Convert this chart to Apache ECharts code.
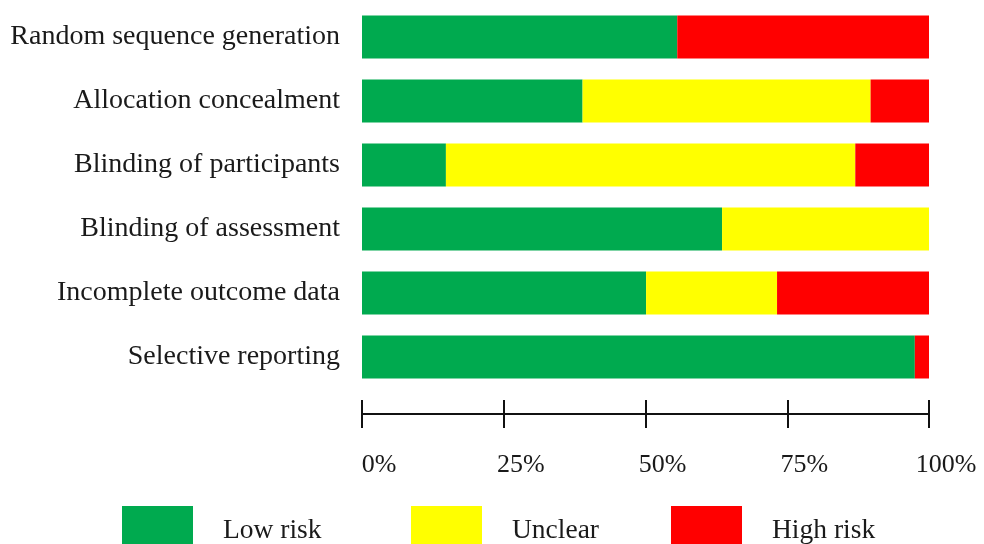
<!DOCTYPE html>
<html>
<head>
<meta charset="utf-8">
<script src="https://cdn.jsdelivr.net/npm/echarts@6/dist/echarts.min.js"></script>
<style>
html,body{margin:0;padding:0;background:#fff;}
#chart{width:984px;height:544px;}
</style>
</head>
<body>
<div id="chart"></div>
<script>
const categories = [
  'Random sequence generation',
  'Allocation concealment',
  'Blinding of participants',
  'Blinding of assessment',
  'Incomplete outcome data',
  'Selective reporting'
];
const lowRisk  = [55.6, 38.9, 14.8, 63.5, 50.1, 97.5];
const unclear  = [0,    50.8, 72.2, 36.5, 23.1, 0];
const highRisk = [44.4, 10.3, 13.0, 0,    26.8, 2.5];
const seriesNames = ['Low risk', 'Unclear', 'High risk'];
const tickValues = [0, 25, 50, 75, 100];

const FONT = '"Liberation Serif", "Times New Roman", serif';
const colors = ['#00AA4F', '#FFFF00', '#FF0000'];

const chart = echarts.init(document.getElementById('chart'), null, {renderer: 'canvas'});

function legendFor(name, left) {
  return {
    data: [name],
    left: left,
    top: 506,
    orient: 'horizontal',
    icon: 'rect',
    itemWidth: 71,
    itemHeight: 50,
    selectedMode: false,
    padding: 0,
    textStyle: {fontFamily: FONT, fontSize: 27.5, color: '#1a1a1a', padding: [0, 0, 0, 25]}
  };
}

const axisCommon = {
  type: 'value',
  min: tickValues[0],
  max: tickValues[tickValues.length - 1],
  interval: 25,
  position: 'bottom',
  offset: 25,
  splitLine: {show: false},
  axisLine: {show: true, lineStyle: {color: '#111', width: 2}}
};

chart.setOption({
  backgroundColor: '#ffffff',
  animation: false,
  color: colors,
  legend: [
    legendFor(seriesNames[0], 122),
    legendFor(seriesNames[1], 411),
    legendFor(seriesNames[2], 671)
  ],
  grid: {left: 362, right: 55, top: 5, height: 384, containLabel: false},
  xAxis: [
    Object.assign({}, axisCommon, {
      axisTick: {show: true, inside: false, length: 14, lineStyle: {color: '#111', width: 2}},
      axisLabel: {
        show: true, margin: 38,
        fontFamily: FONT, fontSize: 26, color: '#1a1a1a',
        padding: [0, 0, 0, 34],
        formatter: '{value}%'
      }
    }),
    Object.assign({}, axisCommon, {
      axisTick: {show: true, inside: true, length: 14, lineStyle: {color: '#111', width: 2}},
      axisLabel: {show: false}
    })
  ],
  yAxis: {
    type: 'category',
    data: categories,
    inverse: true,
    axisLine: {show: false},
    axisTick: {show: false},
    axisLabel: {
      margin: 22,
      fontFamily: FONT, fontSize: 28, color: '#1a1a1a'
    }
  },
  series: [
    {name: seriesNames[0], type: 'bar', stack: 'risk', data: lowRisk, barWidth: 43, itemStyle: {color: colors[0]}},
    {name: seriesNames[1], type: 'bar', stack: 'risk', data: unclear, barWidth: 43, itemStyle: {color: colors[1]}},
    {name: seriesNames[2], type: 'bar', stack: 'risk', data: highRisk, barWidth: 43, itemStyle: {color: colors[2]}}
  ]
});
</script>
</body>
</html>
